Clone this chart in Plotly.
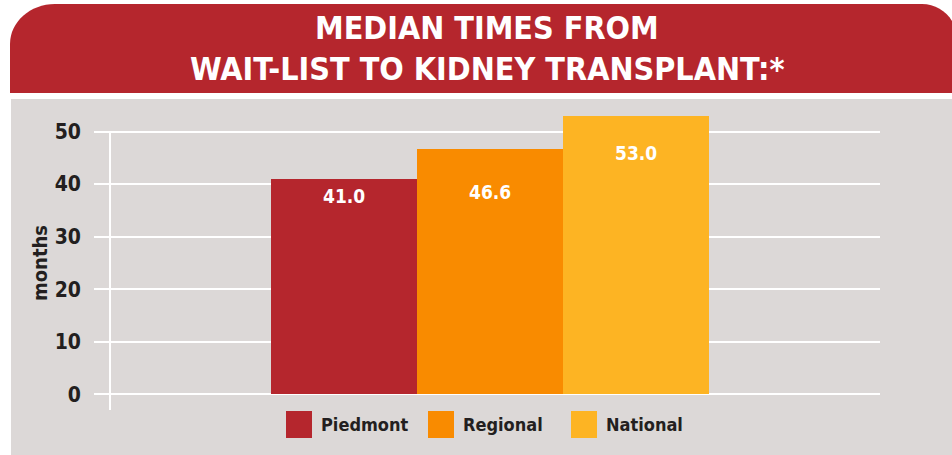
import plotly.graph_objects as go

# ---- data ----
categories = ["Piedmont", "Regional", "National"]
values = [41.0, 46.6, 53.0]
value_labels = ["41.0", "46.6", "53.0"]
bar_colors = ["#b5262d", "#f98b00", "#fdb423"]
y_ticks = [0, 10, 20, 30, 40, 50]
title_lines = ["MEDIAN TIMES FROM", "WAIT-LIST TO KIDNEY TRANSPLANT:*"]
y_title = "months"

# ---- layout geometry (pixels) ----
W, H = 952, 455
L, R, T, B = 94, 880, 100, 410
FONT = "DejaVu Sans Condensed, Liberation Sans Narrow, Arial Narrow, sans-serif"
DARK = "#231f20"
GRAY = "#dcd8d7"
RED = "#b5262d"


def px(p):
    return (p - L) / (R - L)


def py(q):
    return (B - q) / (B - T)


x_idx = list(range(len(categories)))
fig = go.Figure()
fig.add_trace(go.Bar(
    x=x_idx, y=values, width=1.0,
    marker=dict(color=bar_colors, line=dict(width=0)),
    hoverinfo="skip", showlegend=False,
))

shapes = []
# gray panel
shapes.append(dict(type="rect", xref="paper", yref="paper", layer="below",
                   x0=px(11), x1=px(960), y0=py(99), y1=py(460),
                   fillcolor=GRAY, line=dict(width=0)))
# red header with rounded top corners
k = 0.5523
lx, top, bot, rx_l, ry_l = 10, 4, 93, 45, 40
rxr, rr = 957, 35
path = (
    f"M {px(lx)},{py(bot)} L {px(lx)},{py(top + ry_l)} "
    f"C {px(lx)},{py(top + ry_l - k * ry_l)} {px(lx + rx_l - k * rx_l)},{py(top)} {px(lx + rx_l)},{py(top)} "
    f"L {px(rxr - rr)},{py(top)} "
    f"C {px(rxr - rr + k * rr)},{py(top)} {px(rxr)},{py(top + rr - k * rr)} {px(rxr)},{py(top + rr)} "
    f"L {px(rxr)},{py(bot)} Z"
)
shapes.append(dict(type="path", xref="paper", yref="paper", layer="below",
                   path=path, fillcolor=RED, line=dict(width=0)))
# vertical axis line
y_min = -3
shapes.append(dict(type="line", xref="paper", yref="y", layer="below",
                   x0=px(110), x1=px(110), y0=y_min, y1=max(y_ticks),
                   line=dict(color="white", width=2)))

annotations = []
# title
for i, line in enumerate(title_lines):
    annotations.append(dict(text=line, xref="paper", yref="paper",
                            x=px(487), y=py(28 + 41 * i), showarrow=False,
                            xanchor="center", yanchor="middle",
                            font=dict(family=FONT, size=32, color="white", weight="bold")))
# value labels
label_shift = [-17, -43, -37]
for xi, v, lab, s in zip(x_idx, values, value_labels, label_shift):
    annotations.append(dict(text=lab, x=xi, y=v, yshift=s,
                            showarrow=False, xanchor="center", yanchor="middle",
                            font=dict(family=FONT, size=19, color="white", weight="bold")))
# y axis title
annotations.append(dict(text=y_title, xref="paper", yref="paper",
                        x=px(40), y=py(263), showarrow=False, textangle=-90,
                        xanchor="center", yanchor="middle",
                        font=dict(family=FONT, size=20, color=DARK, weight="bold")))
# legend (manual, large swatches)
leg_x = [286, 428, 571]
for lxp, name, col in zip(leg_x, categories, bar_colors):
    shapes.append(dict(type="rect", xref="paper", yref="paper",
                       x0=px(lxp), x1=px(lxp + 26), y0=py(438), y1=py(411),
                       fillcolor=col, line=dict(width=0)))
    annotations.append(dict(text=name, xref="paper", yref="paper",
                            x=px(lxp + 33), y=py(424.5), showarrow=False,
                            xanchor="left", yanchor="middle",
                            font=dict(family=FONT, size=18, color=DARK, weight="bold")))

bar_px = 146
x0 = -0.5 - (271 - L) / bar_px
x1 = x0 + (R - L) / bar_px

fig.update_layout(
    width=W, height=H, autosize=False,
    margin=dict(l=L, r=W - R, t=T, b=H - B, pad=0),
    paper_bgcolor="white", plot_bgcolor="rgba(0,0,0,0)",
    bargap=0, showlegend=False, hovermode=False,
    shapes=shapes, annotations=annotations,
    xaxis=dict(range=[x0, x1], showgrid=False, zeroline=False, showticklabels=False,
               showline=False, fixedrange=True),
    yaxis=dict(range=[y_min, 56], tickvals=y_ticks, showgrid=True, gridcolor="white",
               gridwidth=2, zeroline=False, showline=False, ticks="",
               ticklabelstandoff=12,
               tickfont=dict(family=FONT, size=21, color=DARK, weight="bold"),
               fixedrange=True),
    font=dict(family=FONT),
)

fig.write_html(
    "out.html",
    config={"displayModeBar": False, "staticPlot": True},
    post_script="document.body.style.margin='0';document.body.style.padding='0';",
)
